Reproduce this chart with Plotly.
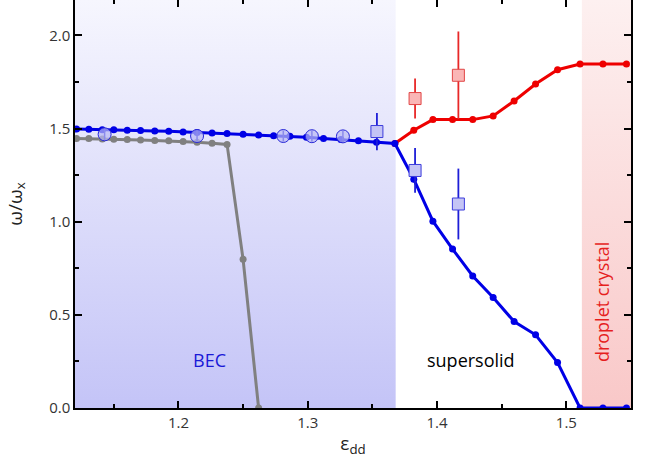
import plotly.graph_objects as go

# ---- theory: mode frequencies vs. dipolar parameter ----
# BEC branch (single mode), up to the supersolid transition
eps_bec = [1.1212, 1.1307, 1.1411, 1.1500, 1.1604, 1.1707, 1.1817, 1.1925, 1.2036,
           1.2144, 1.2260, 1.2376, 1.2500, 1.2620, 1.2736, 1.2862, 1.2990, 1.3122,
           1.3256, 1.3392, 1.3532, 1.3674]
omega_bec = [1.497, 1.496, 1.494, 1.493, 1.491, 1.489, 1.487, 1.485, 1.482,
             1.479, 1.476, 1.473, 1.470, 1.466, 1.462, 1.458, 1.453, 1.447,
             1.441, 1.435, 1.427, 1.420]

# supersolid / droplet regime: the mode splits into a lower and an upper branch
eps_ss = [1.3820, 1.3968, 1.4120, 1.4276, 1.4434, 1.4596, 1.4762, 1.4932,
          1.5106, 1.5283, 1.5465]
omega_low = [1.228, 1.003, 0.853, 0.709, 0.593, 0.464, 0.393, 0.244,
             0.0, 0.0, 0.0]
omega_high = [1.491, 1.548, 1.548, 1.548, 1.568, 1.648, 1.739, 1.816,
              1.846, 1.846, 1.846]

# grey comparison curve
eps_gray = [1.1212, 1.1307, 1.1411, 1.1500, 1.1604, 1.1707, 1.1817, 1.1925,
            1.2036, 1.2144, 1.2260, 1.2376, 1.2500, 1.2620]
omega_gray = [1.447, 1.446, 1.444, 1.443, 1.441, 1.438, 1.436, 1.434,
              1.431, 1.427, 1.421, 1.415, 0.798, 0.0]

# ---- experiment ----
exp_bec_eps = [1.1429, 1.2144, 1.2811, 1.3032, 1.3272]
exp_bec_omega = [1.469, 1.460, 1.460, 1.459, 1.458]
exp_bec_err = [0.03, 0.03, 0.03, 0.03, 0.03]

exp_low_eps = [1.3535, 1.3830, 1.4165]
exp_low_omega = [1.484, 1.275, 1.095]
exp_low_err = [0.10, 0.12, 0.19]

exp_high_eps = [1.3830, 1.4165]
exp_high_omega = [1.661, 1.786]
exp_high_err = [0.107, 0.235]

# ---- axes and phase boundaries ----
X_RANGE = [1.12, 1.55]
Y_RANGE = [0.0, 2.19]
BEC_EDGE = 1.368
CRYSTAL_EDGE = 1.512
x_ticks = [1.2, 1.3, 1.4, 1.5]
y_ticks = [0.0, 0.5, 1.0, 1.5, 2.0]

BLUE = "rgb(0,0,230)"
RED = "rgb(238,0,0)"
GRAY = "rgb(128,128,128)"
FONT = "Open Sans"

fig = go.Figure()

# shaded phase regions
fig.add_trace(go.Scatter(
    x=[X_RANGE[0], BEC_EDGE, BEC_EDGE, X_RANGE[0], X_RANGE[0]],
    y=[Y_RANGE[0], Y_RANGE[0], Y_RANGE[1], Y_RANGE[1], Y_RANGE[0]],
    mode="lines", line=dict(width=0), fill="toself",
    fillgradient=dict(type="vertical",
                      colorscale=[[0, "rgb(196,196,247)"], [1, "rgb(246,246,254)"]]),
    hoverinfo="skip", showlegend=False))
fig.add_trace(go.Scatter(
    x=[CRYSTAL_EDGE, X_RANGE[1], X_RANGE[1], CRYSTAL_EDGE, CRYSTAL_EDGE],
    y=[Y_RANGE[0], Y_RANGE[0], Y_RANGE[1], Y_RANGE[1], Y_RANGE[0]],
    mode="lines", line=dict(width=0), fill="toself",
    fillgradient=dict(type="vertical",
                      colorscale=[[0, "rgb(249,200,200)"], [1, "rgb(253,240,240)"]]),
    hoverinfo="skip", showlegend=False))

# theory curves
fig.add_trace(go.Scatter(x=eps_gray, y=omega_gray, mode="lines+markers",
                         line=dict(color=GRAY, width=3),
                         marker=dict(color=GRAY, size=7), showlegend=False))
fig.add_trace(go.Scatter(x=[eps_bec[-1]] + eps_ss, y=[omega_bec[-1]] + omega_high,
                         mode="lines+markers", line=dict(color=RED, width=3),
                         marker=dict(color=RED, size=7), showlegend=False))
fig.add_trace(go.Scatter(x=eps_bec + eps_ss, y=omega_bec + omega_low,
                         mode="lines+markers", line=dict(color=BLUE, width=3),
                         marker=dict(color=BLUE, size=7), showlegend=False))

# measured frequencies
fig.add_trace(go.Scatter(
    x=exp_bec_eps, y=exp_bec_omega, mode="markers",
    marker=dict(symbol="circle", size=13, color="rgba(185,185,245,0.7)",
                line=dict(color="rgb(40,40,215)", width=1)),
    error_y=dict(type="data", array=exp_bec_err, color="rgb(30,30,210)",
                 thickness=1.5, width=0),
    showlegend=False))
fig.add_trace(go.Scatter(
    x=exp_low_eps, y=exp_low_omega, mode="markers",
    marker=dict(symbol="square", size=12, color="rgb(196,196,245)",
                line=dict(color="rgb(60,60,220)", width=1)),
    error_y=dict(type="data", array=exp_low_err, color="rgb(30,30,215)",
                 thickness=1.8, width=0),
    showlegend=False))
fig.add_trace(go.Scatter(
    x=exp_high_eps, y=exp_high_omega, mode="markers",
    marker=dict(symbol="square", size=12, color="rgb(250,182,182)",
                line=dict(color="rgb(225,70,70)", width=1)),
    error_y=dict(type="data", array=exp_high_err, color="rgb(232,40,40)",
                 thickness=1.8, width=0),
    showlegend=False))

# carrier for the top tick axis
fig.add_trace(go.Scatter(x=[x_ticks[0]], y=[y_ticks[0]], xaxis="x2", mode="markers",
                         marker=dict(opacity=0), hoverinfo="skip", showlegend=False))

# phase labels
fig.add_annotation(x=1.2243, y=0.26, text="BEC", showarrow=False,
                   font=dict(family=FONT, size=18, color="rgb(25,25,215)"))
fig.add_annotation(x=1.4259, y=0.26, text="supersolid", showarrow=False,
                   font=dict(family=FONT, size=18, color="black"))
fig.add_annotation(x=1.5278, y=0.57, text="droplet crystal", showarrow=False,
                   textangle=-90,
                   font=dict(family=FONT, size=18, color="rgb(230,30,30)"))

axis_common = dict(ticks="inside", ticklen=7, tickwidth=1.5, tickcolor="black",
                   showgrid=False, zeroline=False)

fig.update_layout(
    width=646, height=465,
    margin=dict(l=75, r=15, t=0, b=57),
    paper_bgcolor="white", plot_bgcolor="white",
    font=dict(family=FONT, size=15, color="#333333"),
    xaxis=dict(range=X_RANGE, tickvals=x_ticks, tickformat=".1f",
               showline=True, linecolor="black", linewidth=1.5,
               minor=dict(ticks="inside", ticklen=4, tickwidth=1.5,
                          tickcolor="black", dtick=0.05, tick0=1.15),
               title=dict(text="ε<sub>dd</sub>", standoff=6,
                          font=dict(family=FONT, size=19, color="#222222")),
               **axis_common),
    xaxis2=dict(range=X_RANGE, overlaying="x", side="top", anchor="y",
                tickvals=x_ticks, showticklabels=False, showline=False,
                minor=dict(ticks="inside", ticklen=4, tickwidth=1.5,
                           tickcolor="black", dtick=0.05, tick0=1.15),
                **axis_common),
    yaxis=dict(range=Y_RANGE, tickvals=y_ticks, tickformat=".1f",
               showline=True, linecolor="black", linewidth=1.5, mirror="ticks",
               minor=dict(ticks="inside", ticklen=4, tickwidth=1.5,
                          tickcolor="black", dtick=0.25, tick0=0),
               title=dict(text="ω/ω<sub>x</sub>", standoff=22,
                          font=dict(family=FONT, size=19, color="#222222")),
               **axis_common),
)

fig.write_html("out.html")
